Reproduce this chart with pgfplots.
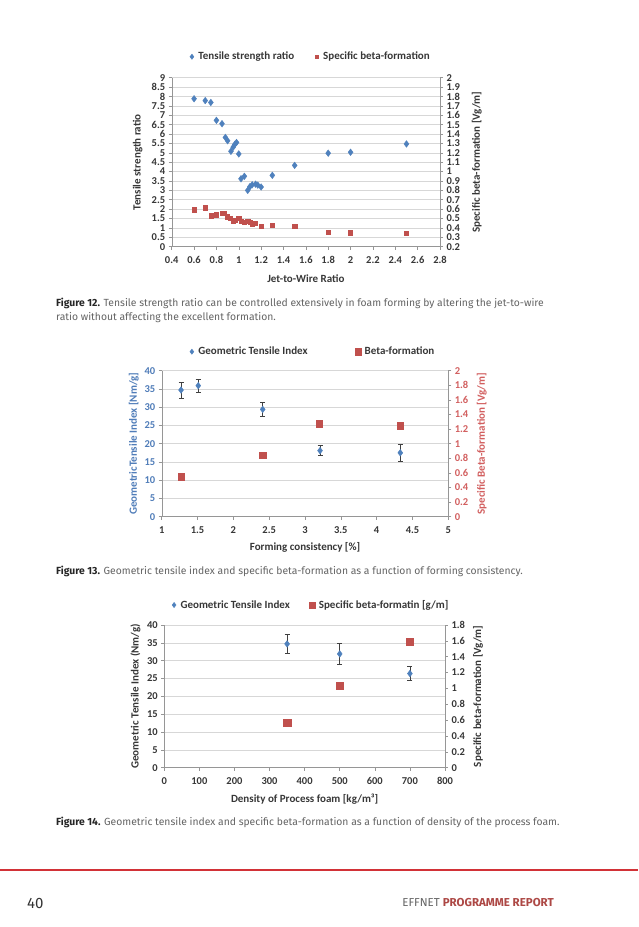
\documentclass[border=0pt]{standalone}
\usepackage{pgfplots}
\pgfplotsset{compat=1.18}
\usepackage{fontspec}
\setmainfont{Carlito}
\newfontfamily\capfont{Fira Sans}

\definecolor{cblue}{RGB}{79,129,189}
\definecolor{cred}{RGB}{192,80,77}
\definecolor{txt}{RGB}{55,55,55}
\definecolor{axgray}{RGB}{150,150,150}
\definecolor{gridc}{RGB}{215,215,215}
\definecolor{lblue}{RGB}{80,125,185}
\definecolor{lred}{RGB}{210,95,95}
\definecolor{footred}{RGB}{210,50,55}
\definecolor{capgray}{RGB}{100,100,100}

\newcommand\lbf{\fontsize{11}{13}\selectfont\bfseries}
\newcommand\tbf{\fontsize{10.5}{12}\selectfont\bfseries}

\pgfplotsset{
  exc/.style={
    scale only axis, clip=false,
    /pgf/number format/assume math mode=true,
    tick label style={font=\tbf, text=txt},
    axis line style={draw=axgray,-},
    every outer x axis line/.append style={-},
    every outer y axis line/.append style={-},
    tick style={draw=axgray, line width=0.5pt},
    major tick length=3pt,
    tick align=outside,
    xticklabel style={yshift=-3.5pt},
    grid style={draw=gridc, line width=0.6pt},
    legend style={draw=none, fill=none, font=\lbf,
      text=txt, legend columns=2, /tikz/every even column/.append style={column sep=16pt}},
    legend image code/.code={%
      \node[draw=none, fill=none, inner sep=0pt, minimum width=9pt, minimum height=5pt] at (3.5pt,0pt) {};
      \draw[##1] plot coordinates {(3.5pt,0pt)};},
  },
  ebar/.style={error bars/.cd, y dir=both, y explicit,
    error bar style={draw=black!75, line width=0.6pt},
    error mark options={rotate=90, draw=black!75, mark size=2.5pt, line width=0.6pt}},
}

\begin{document}
\begin{tikzpicture}[x=1pt,y=1pt]
\path[use as bounding box, fill=white] (0,0) rectangle (638,927);

% ---------- Figure 12 ----------
\begin{axis}[exc, at={(171.7pt,680.3pt)}, anchor=south west,
  width=268.3pt, height=169pt,
  xmin=0.4, xmax=2.8, ymin=0, ymax=9,
  xtick={0.4,0.6,0.8,1,1.2,1.4,1.6,1.8,2,2.2,2.4,2.6,2.8},
  ytick={0,0.5,1,1.5,2,2.5,3,3.5,4,4.5,5,5.5,6,6.5,7,7.5,8,8.5,9},
  axis y line*=left, axis x line*=bottom,
  ymajorgrids,
  xlabel={Jet-to-Wire Ratio},
  ylabel={Tensile strength ratio},
  every axis x label/.style={at={(axis description cs:0.5,-0.189)},anchor=center,font=\lbf,text=txt},
  every axis y label/.style={at={(axis description cs:-0.127,0.5)},anchor=center,rotate=90,font=\lbf,text=txt},
  legend style={at={(rel axis cs:0.514,1.124)}, anchor=center},
]
\addlegendimage{only marks, mark=diamond*, color=cblue, mark size=2.6pt}
\addlegendentry{Tensile strength ratio}
\addlegendimage{only marks, mark=square*, color=cred, mark size=1.8pt}
\addlegendentry{Specific beta-formation}
\addplot[only marks, mark=diamond*, color=cblue, mark size=3.3pt, forget plot] coordinates {
 (0.6,7.88) (0.7,7.78) (0.75,7.68) (0.8,6.73) (0.85,6.55) (0.88,5.82) (0.9,5.64)
 (0.93,5.08) (0.95,5.3) (0.965,5.45) (0.98,5.55) (1.0,4.94) (1.02,3.62) (1.05,3.75)
 (1.08,3.0) (1.1,3.2) (1.12,3.3) (1.15,3.33) (1.17,3.28) (1.2,3.18) (1.3,3.8)
 (1.5,4.33) (1.8,4.98) (2.0,5.03) (2.5,5.47)};
\end{axis}
\begin{axis}[exc, at={(171.7pt,680.3pt)}, anchor=south west,
  width=268.3pt, height=169pt,
  xmin=0.4, xmax=2.8, ymin=0.2, ymax=2,
  ytick={0.2,0.3,0.4,0.5,0.6,0.7,0.8,0.9,1,1.1,1.2,1.3,1.4,1.5,1.6,1.7,1.8,1.9,2},
  axis y line*=right, axis x line=none,
  ylabel={Specific beta-formation [Vg/m]},
  every axis y label/.style={at={(axis description cs:1.137,0.5)},anchor=center,rotate=90,font=\lbf,text=txt},
]
\addplot[only marks, mark=square*, color=cred, mark size=2.1pt] coordinates {
 (0.6,0.595) (0.7,0.615) (0.75,0.53) (0.8,0.54) (0.85,0.555) (0.87,0.557) (0.9,0.52)
 (0.92,0.5) (0.95,0.47) (0.97,0.48) (1.0,0.5) (1.02,0.47) (1.05,0.46) (1.08,0.47)
 (1.1,0.46) (1.12,0.44) (1.15,0.45) (1.2,0.42) (1.3,0.43) (1.5,0.42) (1.8,0.355)
 (2.0,0.35) (2.5,0.345)};
\end{axis}

% ---------- Figure 13 ----------
\begin{axis}[exc, at={(161.7pt,410.3pt)}, anchor=south west,
  width=286.6pt, height=146pt,
  xmin=1, xmax=5, ymin=0, ymax=40,
  xtick={1,1.5,2,2.5,3,3.5,4,4.5,5},
  ytick={0,5,10,15,20,25,30,35,40},
  axis y line*=left, axis x line*=bottom,
  ymajorgrids,
  yticklabel style={text=lblue},
  xlabel={Forming consistency [\%]},
  ylabel={GeometricTensile Index [Nm/g]},
  every axis x label/.style={at={(axis description cs:0.5,-0.21)},anchor=center,font=\lbf,text=txt},
  every axis y label/.style={at={(axis description cs:-0.097,0.5)},anchor=center,rotate=90,font=\lbf,text=lblue},
  legend style={at={(rel axis cs:0.524,1.13)}, anchor=center,
    /tikz/every even column/.append style={column sep=44pt}},
]
\addlegendimage{only marks, mark=diamond*, color=cblue, mark size=2.6pt}
\addlegendentry{Geometric Tensile Index}
\addlegendimage{only marks, mark=square*, color=cred, mark size=3.2pt}
\addlegendentry{Beta-formation}
\addplot[only marks, mark=diamond*, color=cblue, mark size=3.3pt, forget plot, ebar] coordinates {
 (1.27,34.7) +- (0,2.2)
 (1.51,35.9) +- (0,1.8)
 (2.41,29.4) +- (0,1.9)
 (3.21,18.1) +- (0,1.4)
 (4.33,17.5) +- (0,2.2)};
\end{axis}
\begin{axis}[exc, at={(161.7pt,410.3pt)}, anchor=south west,
  width=286.6pt, height=146pt,
  xmin=1, xmax=5, ymin=0, ymax=2,
  ytick={0,0.2,0.4,0.6,0.8,1,1.2,1.4,1.6,1.8,2},
  axis y line*=right, axis x line=none,
  yticklabel style={text=lred},
  ylabel={Specific Beta-formation [Vg/m]},
  every axis y label/.style={at={(axis description cs:1.117,0.5)},anchor=center,rotate=90,font=\lbf,text=lred},
]
\addplot[only marks, mark=square*, color=cred, mark size=3.3pt] coordinates {
 (1.27,0.55) (2.41,0.84) (3.2,1.275) (4.33,1.25)};
\end{axis}

% ---------- Figure 14 ----------
\begin{axis}[exc, at={(164.3pt,159.3pt)}, anchor=south west,
  width=280.7pt, height=142.7pt,
  xmin=0, xmax=800, ymin=0, ymax=40,
  xtick={0,100,200,300,400,500,600,700,800},
  ytick={0,5,10,15,20,25,30,35,40},
  axis y line*=left, axis x line*=bottom,
  ymajorgrids,
  xlabel={Density of Process foam [kg/m³]},
  ylabel={Geometric Tensile Index (Nm/g)},
  every axis x label/.style={at={(axis description cs:0.5,-0.219)},anchor=center,font=\lbf,text=txt},
  every axis y label/.style={at={(axis description cs:-0.103,0.5)},anchor=center,rotate=90,font=\lbf,text=txt},
  legend style={at={(rel axis cs:0.519,1.14)}, anchor=center},
]
\addlegendimage{only marks, mark=diamond*, color=cblue, mark size=2.6pt}
\addlegendentry{Geometric Tensile Index}
\addlegendimage{only marks, mark=square*, color=cred, mark size=3.2pt}
\addlegendentry{Specific beta-formatin [g/m]}
\addplot[only marks, mark=diamond*, color=cblue, mark size=3.3pt, forget plot, ebar] coordinates {
 (350,34.7) +- (0,2.7)
 (500,31.9) +- (0,2.9)
 (700,26.4) +- (0,2.0)};
\end{axis}
\begin{axis}[exc, at={(164.3pt,159.3pt)}, anchor=south west,
  width=280.7pt, height=142.7pt,
  xmin=0, xmax=800, ymin=0, ymax=1.8,
  ytick={0,0.2,0.4,0.6,0.8,1,1.2,1.4,1.6,1.8},
  axis y line*=right, axis x line=none,
  ylabel={Specific beta-formation [Vg/m]},
  every axis y label/.style={at={(axis description cs:1.118,0.5)},anchor=center,rotate=90,font=\lbf,text=txt},
]
\addplot[only marks, mark=square*, color=cred, mark size=3.6pt] coordinates {
 (350,0.57) (500,1.035) (700,1.59)};
\end{axis}

% ---------- captions and footer ----------
\begin{scope}[every node/.style={inner sep=0pt, text=capgray, font=\capfont\fontsize{10.35}{12}\selectfont}]
\node[anchor=base west] at (56,620) {{\color{black!85}\bfseries Figure 12.} Tensile strength ratio can be controlled extensively in foam forming by altering the jet-to-wire};
\node[anchor=base west] at (56,606.5) {ratio without affecting the excellent formation.};
\node[anchor=base west] at (56,352) {{\color{black!85}\bfseries Figure 13.} Geometric tensile index and specific beta-formation as a function of forming consistency.};
\node[anchor=base west] at (56,101) {{\color{black!85}\bfseries Figure 14.} Geometric tensile index and specific beta-formation as a function of density of the process foam.};
\end{scope}
\fill[footred] (0,56) rectangle (638,58);
\node[anchor=base west, inner sep=0pt, text=black!80, font=\capfont\fontsize{15}{17}\selectfont] at (27,19) {40};
\node[anchor=base east, inner sep=0pt, text=capgray, font=\capfont\fontsize{11.5}{13}\selectfont] at (554,20) {EFFNET {\color{cred!90!black}\bfseries PROGRAMME REPORT}};
\end{tikzpicture}
\end{document}
